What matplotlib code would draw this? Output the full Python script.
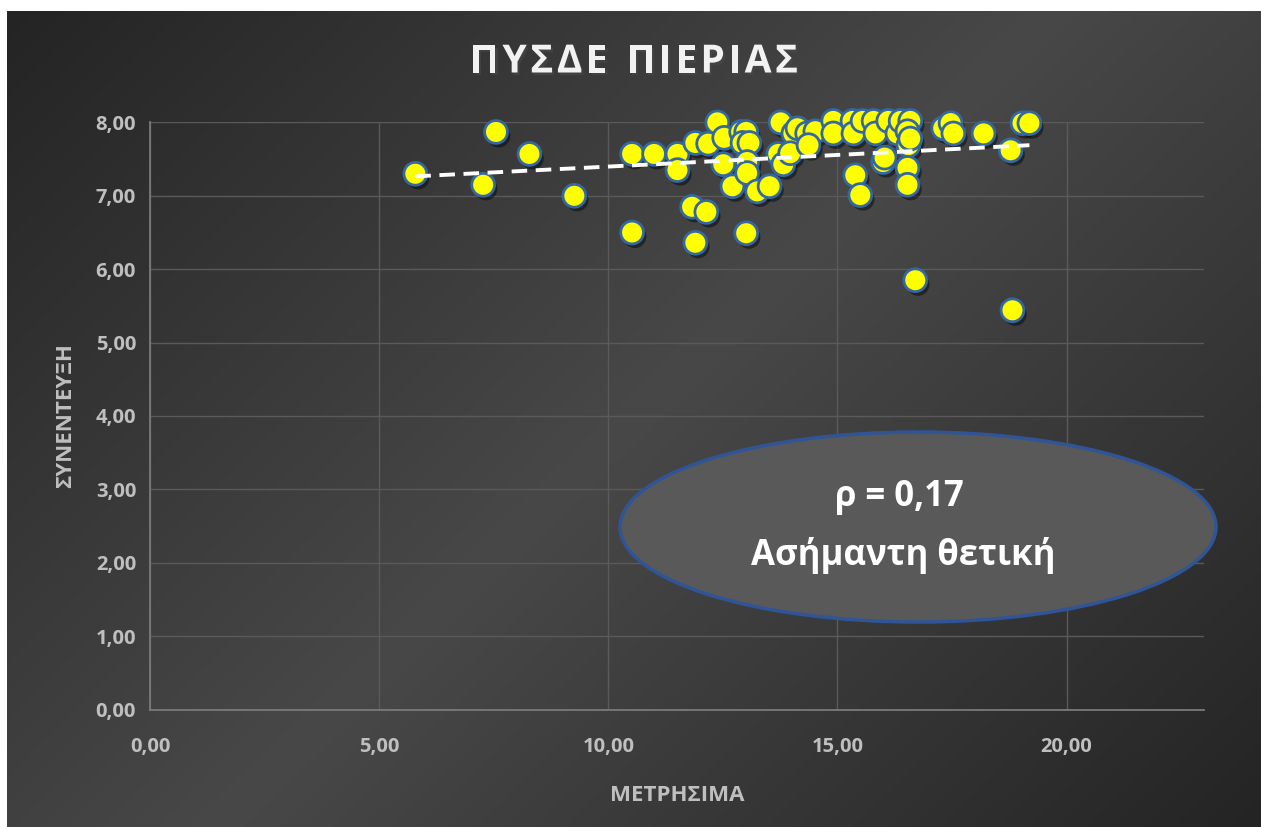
import numpy as np
import matplotlib
matplotlib.use("Agg")
import matplotlib.pyplot as plt
from matplotlib.patches import Ellipse
import matplotlib.patheffects as pe
from matplotlib.ticker import FuncFormatter, MultipleLocator

plt.rcParams['font.family'] = ['Open Sans', 'DejaVu Sans']

# ---- data ----
metrisima = [5.79, 7.27, 7.55, 8.28, 9.26, 10.52, 10.52, 11.00, 11.51, 11.51,
             11.83, 12.14, 11.90, 11.90, 12.18, 12.38, 12.53, 12.51, 12.71, 12.90,
             13.01, 12.93, 13.08, 13.03, 13.03, 13.01, 13.25, 13.52, 13.76, 14.04,
             14.13, 13.71, 13.82, 13.97, 14.34, 14.52, 14.37, 14.91, 14.91, 15.33,
             15.35, 15.55, 15.79, 15.83, 16.11, 16.31, 16.38, 16.59, 16.55, 16.00,
             15.39, 15.50, 16.53, 16.53, 16.53, 16.70, 17.31, 17.47, 17.53, 18.19,
             18.78, 19.04, 19.19, 18.82, 16.59, 16.03]
synenteyxi = [7.30, 7.15, 7.87, 7.57, 7.00, 7.57, 6.50, 7.57, 7.57, 7.35,
              6.85, 6.78, 6.36, 7.72, 7.71, 8.00, 7.79, 7.43, 7.13, 7.87,
              7.87, 7.72, 7.72, 7.46, 7.31, 6.49, 7.06, 7.13, 8.00, 7.85,
              7.92, 7.57, 7.43, 7.58, 7.85, 7.88, 7.69, 8.02, 7.85, 8.02,
              7.85, 8.02, 8.02, 7.85, 8.02, 7.85, 8.02, 8.02, 7.69, 7.46,
              7.28, 7.01, 7.38, 7.15, 7.88, 5.85, 7.92, 7.99, 7.85, 7.85,
              7.62, 7.99, 7.99, 5.44, 7.78, 7.52]

title = "ΠΥΣΔΕ ΠΙΕΡΙΑΣ"
xlabel = "ΜΕΤΡΗΣΙΜΑ"
ylabel = "ΣΥΝΕΝΤΕΥΞΗ"
note_lines = ["ρ = 0,17", "Ασήμαντη θετική"]

W, H = 1261, 827
fig = plt.figure(figsize=(W / 100, H / 100), dpi=100)
fig.patch.set_facecolor('white')

# background gradient
bg = fig.add_axes([7 / W, 0, 1 - 7 / W, 1 - 11 / H], zorder=-10)
ny, nx = 400, 600
yy, xx = np.mgrid[0:1:ny * 1j, 0:1:nx * 1j]
t = (xx * 1.5 + yy) / 2.5
v = 1 - np.abs(2 * t - 1)
dark, light = 0x24 / 255, 0x48 / 255
img = dark + (light - dark) * v
bg.imshow(np.dstack([img, img, img]), aspect='auto', extent=[0, 1, 1, 0])
bg.set_axis_off()

ax = fig.add_axes([150 / W, 1 - 709.5 / H, (1204 - 150) / W, (709.5 - 122.4) / H])
ax.set_facecolor('none')
ax.set_xlim(0, 23)
ax.set_ylim(0, 8)
ax.xaxis.set_major_locator(MultipleLocator(5))
ax.yaxis.set_major_locator(MultipleLocator(1))
fmt = FuncFormatter(lambda v, p: f"{v:.2f}".replace('.', ','))
ax.xaxis.set_major_formatter(fmt)
ax.yaxis.set_major_formatter(fmt)
ax.grid(True, color='#5a5a5a', lw=1.0, zorder=0)
for s in ['top', 'right']:
    ax.spines[s].set_visible(False)
for s in ['left', 'bottom']:
    ax.spines[s].set_color('#7a7a7a')
    ax.spines[s].set_linewidth(1.3)
ax.tick_params(axis='x', length=0, pad=20, labelcolor='#bfbfbf', labelsize=14.5)
ax.tick_params(axis='y', length=0, pad=10, labelcolor='#bfbfbf', labelsize=14.5)
for lab in ax.get_xticklabels() + ax.get_yticklabels():
    lab.set_fontweight('bold')

ax.scatter(metrisima, synenteyxi, s=270, c='#ffff00', edgecolors='#3468a3',
           linewidths=2.0, zorder=3, clip_on=False,
           path_effects=[pe.SimplePatchShadow(offset=(2, -3), shadow_rgbFace='black', alpha=0.45),
                         pe.Normal()])

# linear trendline
xs = np.array(metrisima)
ys = np.array(synenteyxi)
k, b = np.polyfit(xs, ys, 1)
xl = np.array([xs.min(), xs.max()])
ax.plot(xl, k * xl + b, color='white', lw=2.8, ls=(0, (4, 2.2)), zorder=4, clip_on=False)

ax.set_xlabel(xlabel, color='#bfbfbf', fontsize=16, fontweight='bold', labelpad=20)
ax.set_ylabel(ylabel, color='#bfbfbf', fontsize=16, fontweight='bold', labelpad=14)

# title with letter spacing
fig.canvas.draw()
renderer = fig.canvas.get_renderer()
tfs = 28
spacing = 3.5  # px between letters
widths = []
for ch in title:
    tt = fig.text(0, 0, ch if ch != ' ' else 'Ι', fontsize=tfs, fontweight='bold')
    w = tt.get_window_extent(renderer).width
    if ch == ' ':
        w *= 0.9
    widths.append(w)
    tt.remove()
total = sum(widths) + spacing * (len(title) - 1)
xpos = 634 - total / 2
for ch, w in zip(title, widths):
    if ch != ' ':
        fig.text(xpos / W, 1 - 62 / H, ch, ha='left', va='center', fontsize=tfs,
                 fontweight='bold', color='#f2f2f2',
                 path_effects=[pe.withSimplePatchShadow(offset=(1.5, -2), alpha=0.6)])
    xpos += w + spacing

# annotation ellipse
ell = Ellipse((918 / W, 1 - 527 / H), 596 / W, 190 / H, transform=fig.transFigure,
              facecolor='#595959', edgecolor='#2f5597', lw=2.5, zorder=5)
fig.add_artist(ell)
fig.text(899 / W, 1 - 497 / H, note_lines[0], ha='center', va='center', fontsize=25,
         fontweight='bold', color='white', zorder=6)
fig.text(903 / W, 1 - 555 / H, note_lines[1], ha='center', va='center', fontsize=25,
         fontweight='bold', color='white', zorder=6)

fig.savefig('out.png', dpi=100, facecolor=fig.get_facecolor())
